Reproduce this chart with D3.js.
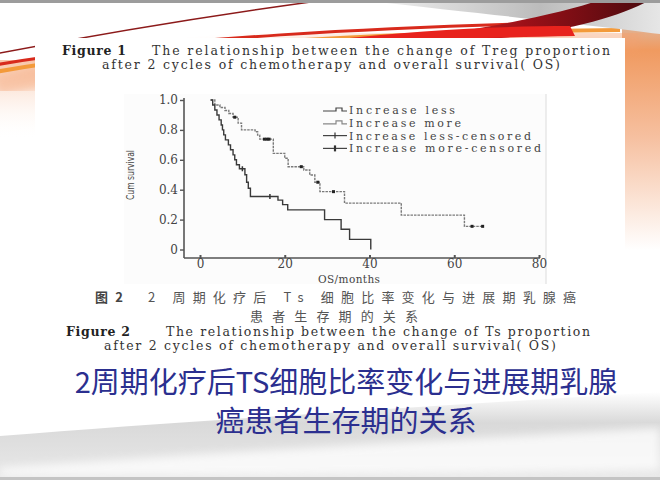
<!DOCTYPE html>
<html>
<head>
<meta charset="utf-8">
<script src="https://cdn.jsdelivr.net/npm/d3@7"></script>
<style>
body { margin: 0; background: #fff; }
svg { display: block; }
</style>
</head>
<body>
<svg id="slide" width="660" height="480"></svg>
<script>
// Kaplan-Meier steps (months, cum survival after the step)
const lessMonths = [2.5, 3.0, 3.5, 4.0, 4.5, 5.0, 5.3, 5.6, 6.0, 6.7, 7.2, 7.8, 8.2, 8.6, 9.3, 10.6, 11.0, 11.4, 11.9, 18.4, 19.5, 20.7, 29.4, 33.3, 35.3, 40.3];
const lessSurvival = [1.0, 0.967, 0.933, 0.9, 0.867, 0.833, 0.8, 0.767, 0.733, 0.7, 0.667, 0.633, 0.6, 0.567, 0.54, 0.5, 0.45, 0.41, 0.355, 0.33, 0.3, 0.265, 0.2, 0.135, 0.068, 0];
const lessCensored = [10.0, 16.5];

const moreMonths = [2.5, 3.5, 4.7, 5.9, 6.8, 7.8, 9.0, 9.8, 13.0, 13.6, 14.1, 17.3, 20.0, 20.8, 24.5, 25.9, 27.1, 28.3, 34.1, 47.5, 62.4, 67.0];
const moreSurvival = [1.0, 0.967, 0.95, 0.93, 0.91, 0.885, 0.845, 0.8, 0.788, 0.765, 0.738, 0.643, 0.61, 0.554, 0.532, 0.498, 0.45, 0.387, 0.31, 0.23, 0.155, 0.155];
const moreCensored = [8.2, 15.2, 15.8, 16.3, 23.9, 27.8, 31.5, 64.2, 66.7];

const xTicks = [0, 20, 40, 60, 80];
const yTicks = [0, 0.2, 0.4, 0.6, 0.8, 1.0];
const legendLabels = ["Increase less", "Increase more", "Increase less-censored", "Increase more-censored"];

const svg = d3.select("#slide");
const defs = svg.append("defs");

// ---------- slide background ----------
let g1 = defs.append("linearGradient").attr("id", "grayBlade").attr("x1", 0).attr("x2", 1);
g1.append("stop").attr("offset", 0).attr("stop-color", "#f4f4f4");
g1.append("stop").attr("offset", 0.6).attr("stop-color", "#bcbcbc");
g1.append("stop").attr("offset", 1).attr("stop-color", "#e6e6e6");

let g2 = defs.append("linearGradient").attr("id", "maroon").attr("x1", 0).attr("x2", 1);
g2.append("stop").attr("offset", 0).attr("stop-color", "#e33a2a");
g2.append("stop").attr("offset", 0.5).attr("stop-color", "#9c1018");
g2.append("stop").attr("offset", 1).attr("stop-color", "#4a0a0e");

let g3 = defs.append("linearGradient").attr("id", "rightEdge").attr("x1", 0).attr("x2", 0).attr("y1", 0).attr("y2", 1);
g3.append("stop").attr("offset", 0).attr("stop-color", "#d0d0d0");
g3.append("stop").attr("offset", 0.2).attr("stop-color", "#f09a60");
g3.append("stop").attr("offset", 0.55).attr("stop-color", "#f6c0a0");
g3.append("stop").attr("offset", 1).attr("stop-color", "#ffffff");

let g4 = defs.append("linearGradient").attr("id", "bottomGray").attr("x1", 0).attr("x2", 0).attr("y1", 0).attr("y2", 1);
g4.append("stop").attr("offset", 0).attr("stop-color", "#ffffff");
g4.append("stop").attr("offset", 0.35).attr("stop-color", "#d9d9d9");
g4.append("stop").attr("offset", 1).attr("stop-color", "#e9e9e9");

let g5 = defs.append("linearGradient").attr("id", "leftGlow").attr("x1", 0).attr("x2", 0).attr("y1", 0).attr("y2", 1);
g5.append("stop").attr("offset", 0).attr("stop-color", "#f3a070");
g5.append("stop").attr("offset", 1).attr("stop-color", "#ffffff").attr("stop-opacity", 0);

defs.append("filter").attr("id", "blur")
.append("feGaussianBlur").attr("stdDeviation", 4);

svg.append("rect")
.attr("width", 660)
.attr("height", 480)
.attr("fill", "#fff");

// bottom gray swoosh
svg.append("path")
.attr("d", "M0,436 C200,420 450,405 660,392 L660,480 L0,480 Z")
.attr("fill", "url(#bottomGray)");
svg.append("path")
.attr("d", "M0,468 C220,452 450,440 660,428 L660,470 C450,474 200,476 0,476 Z")
.attr("fill", "#fff")
.style("opacity", 0.75)
.attr("filter", "url(#blur)");
svg.append("rect")
.attr("y", 477)
.attr("width", 660)
.attr("height", 3)
.attr("fill", "#c4c4c4");

// left glow and right edge strip
svg.append("rect")
.attr("y", 60)
.attr("width", 40)
.attr("height", 80)
.attr("fill", "url(#leftGlow)")
.style("opacity", 0.6);
svg.append("rect")
.attr("x", 622)
.attr("y", 0)
.attr("width", 38)
.attr("height", 250)
.attr("fill", "url(#rightEdge)");

// top swoosh lines
svg.append("path")
.attr("d", "M-5,86 C150,52 400,40 640,38")
.attr("fill", "none")
.attr("stroke", "#f4a070")
.attr("stroke-width", 22)
.style("opacity", 0.45)
.attr("filter", "url(#blur)");
svg.append("path")
.attr("d", "M-5,72 C150,44 400,32 620,30")
.attr("fill", "none")
.attr("stroke", "#f39a3a")
.attr("stroke-width", 4);
svg.append("path")
.attr("d", "M-5,65 C150,38 400,26 600,22")
.attr("fill", "none")
.attr("stroke", "#d82a1c")
.attr("stroke-width", 3);
svg.append("path")
.attr("d", "M-5,54 C120,30 250,10 340,-2")
.attr("fill", "none")
.attr("stroke", "#8c1a1a")
.attr("stroke-width", 1.5);

// top-right blades
svg.append("path")
.attr("d", "M360,0 L660,0 L660,34 C600,26 520,18 360,0 Z")
.attr("fill", "url(#grayBlade)");
svg.append("path")
.attr("d", "M400,40 C480,30 560,14 600,0 L650,0 C610,22 540,38 430,44 Z")
.attr("fill", "url(#maroon)");
svg.append("path")
.attr("d", "M330,40 C420,30 500,26 570,26 L575,36 C480,38 400,40 330,40 Z")
.attr("fill", "#e8231d");
svg.append("rect")
.attr("width", 660)
.attr("height", 3)
.attr("fill", "#9c9c9c");

// white panel holding the pasted figure
svg.append("rect")
.attr("x", 35)
.attr("y", 38)
.attr("width", 590)
.attr("height", 335)
.attr("fill", "#fff");
svg.append("rect")
.attr("x", 124)
.attr("y", 94)
.attr("width", 422)
.attr("height", 190)
.attr("fill", "#fcfcfc");
svg.append("line")
.attr("x1", 546).attr("x2", 546)
.attr("y1", 94).attr("y2", 284)
.attr("stroke", "#dcdcdc");

// ---------- captions ----------
const serif = "'DejaVu Serif', 'Liberation Serif', serif";
const cjk = "'Noto Sans CJK SC', sans-serif";

function caption(x, y, str, len, opts) {
	opts = opts || {};
	let t = svg.append("text")
	.attr("x", x)
	.attr("y", y)
	.attr("font-family", opts.font || serif)
	.attr("font-size", opts.size || 12.5)
	.attr("font-weight", opts.bold ? "bold" : "normal")
	.attr("fill", opts.color || "#333")
	.text(str);
	if (len) t.attr("textLength", len).attr("lengthAdjust", "spacing");
	return t;
}

caption(62, 55, "Figure 1", 64, {bold: true, color: "#222"});
caption(152, 55, "The relationship between the change of Treg proportion", 458);
caption(102, 69, "after 2 cycles of chemotherapy and overall survival( OS)", 458);

caption(95, 302, "图 2", 28, {font: cjk, size: 13, bold: true, color: "#444"});
caption(148, 302, "2 周期化疗后 Ts 细胞比率变化与进展期乳腺癌", 428, {font: cjk, size: 13, color: "#555"});
caption(250, 321, "患者生存期的关系", 168, {font: cjk, size: 13, color: "#555"});
caption(66, 336, "Figure 2", 64, {bold: true, color: "#222"});
caption(166, 336, "The relationship between the change of Ts proportion", 424);
caption(104, 350, "after 2 cycles of chemotherapy and overall survival( OS)", 452);

// big chinese title
svg.append("text")
.attr("x", 346)
.attr("y", 393)
.attr("text-anchor", "middle")
.attr("font-family", cjk)
.attr("font-size", 29)
.attr("fill", "#2b2f8f")
.text("2周期化疗后TS细胞比率变化与进展期乳腺");
svg.append("text")
.attr("x", 346)
.attr("y", 432)
.attr("text-anchor", "middle")
.attr("font-family", cjk)
.attr("font-size", 29)
.attr("fill", "#2b2f8f")
.text("癌患者生存期的关系");

// ---------- survival chart ----------
let x = d3.scaleLinear()
.domain([0, 80])
.range([200, 539]);

let y = d3.scaleLinear()
.domain([0, 1])
.range([249.5, 100]);

const axisColor = "#555";
const axisX0 = 184, axisY0 = 258;

let chart = svg.append("g");

// axis frame
chart.append("line")
.attr("x1", axisX0).attr("x2", axisX0)
.attr("y1", y(1) - 2).attr("y2", axisY0)
.attr("stroke", axisColor)
.attr("stroke-width", 1.6);
chart.append("line")
.attr("x1", axisX0).attr("x2", x(80) + 1)
.attr("y1", axisY0).attr("y2", axisY0)
.attr("stroke", axisColor)
.attr("stroke-width", 1.6);

let yAxis = chart.append("g")
.attr("transform", `translate(${axisX0},0)`)
.call(d3.axisLeft(y)
	.tickValues(yTicks)
	.tickSize(4)
	.tickFormat(d => d == 0 ? "0" : d.toFixed(1)));
yAxis.select(".domain").remove();
yAxis.selectAll("line").attr("stroke", axisColor).attr("stroke-width", 1.4);
yAxis.selectAll("text")
.attr("font-family", serif)
.attr("font-size", 12)
.attr("fill", "#444")
.attr("x", -6);

let xAxis = chart.append("g")
.attr("transform", `translate(0,${axisY0})`)
.call(d3.axisBottom(x)
	.tickValues(xTicks)
	.tickSize(-3));
xAxis.select(".domain").remove();
xAxis.selectAll("line").attr("stroke", axisColor).attr("stroke-width", 2);
xAxis.selectAll("text")
.attr("font-family", serif)
.attr("font-size", 12)
.attr("fill", "#444")
.attr("y", 1);

chart.append("text")
.attr("x", 318)
.attr("y", 283)
.attr("font-family", serif)
.attr("font-size", 10.5)
.attr("fill", "#444")
.attr("textLength", 62)
.attr("lengthAdjust", "spacing")
.text("OS/months");

chart.append("text")
.attr("transform", "translate(134,175) rotate(-90)")
.attr("text-anchor", "middle")
.attr("font-family", "'Liberation Sans Narrow', 'DejaVu Sans Condensed', sans-serif")
.attr("font-size", 10.5)
.attr("fill", "#444")
.attr("textLength", 50)
.attr("lengthAdjust", "spacingAndGlyphs")
.text("Cum survival");

// curves
let stepLine = d3.line()
.x(d => x(d[0]))
.y(d => y(d[1]))
.curve(d3.curveStepAfter);

let lessData = lessMonths.map((m, i) => [m, lessSurvival[i]]);
let moreData = moreMonths.map((m, i) => [m, moreSurvival[i]]);

chart.append("path")
.datum(moreData)
.attr("d", stepLine)
.attr("fill", "none")
.attr("stroke", "#7a7a7a")
.attr("stroke-width", 1.4)
.attr("stroke-dasharray", "2.5,1");

chart.append("path")
.datum(lessData)
.attr("d", stepLine)
.attr("fill", "none")
.attr("stroke", "#3a3a3a")
.attr("stroke-width", 1.4);

// survival value at a month from the step data
function survivalAt(months, surv, t) {
	let s = surv[0];
	months.forEach((m, i) => { if (m <= t) s = surv[i]; });
	return s;
}

chart.selectAll(".censorLess")
.data(lessCensored)
.join("line")
.attr("class", "censorLess")
.attr("x1", d => x(d)).attr("x2", d => x(d))
.attr("y1", d => y(survivalAt(lessMonths, lessSurvival, d)) - 2.5)
.attr("y2", d => y(survivalAt(lessMonths, lessSurvival, d)) + 2.5)
.attr("stroke", "#333")
.attr("stroke-width", 1.5);

chart.selectAll(".censorMore")
.data(moreCensored)
.join("rect")
.attr("class", "censorMore")
.attr("x", d => x(d) - 1.5)
.attr("y", d => y(survivalAt(moreMonths, moreSurvival, d)) - 1.5)
.attr("width", 3)
.attr("height", 3)
.attr("fill", "#222");

// legend
let legend = chart.selectAll(".legend")
.data(legendLabels)
.join("g")
.attr("class", "legend")
.attr("transform", (d, i) => `translate(323,${110 + i * 12.8})`);

legend.append("path")
.attr("d", (d, i) => i < 2 ? "M0,1 H13 V-2 H19 V1 H24" : "M0,0 H24")
.attr("fill", "none")
.attr("stroke", (d, i) => i == 1 ? "#888" : "#444")
.attr("stroke-width", 1.2);

legend.filter((d, i) => i >= 2)
.append("line")
.attr("x1", 12).attr("x2", 12)
.attr("y1", -3).attr("y2", 3)
.attr("stroke", "#333")
.attr("stroke-width", (d, i) => i == 1 ? 2.2 : 1.2);

legend.append("text")
.attr("x", 26)
.attr("y", 4)
.attr("font-family", serif)
.attr("font-size", 11)
.attr("fill", "#444")
.attr("textLength", (d, i) => [106, 112, 182, 192][i])
.attr("lengthAdjust", "spacing")
.text(d => d);
</script>
</body>
</html>
